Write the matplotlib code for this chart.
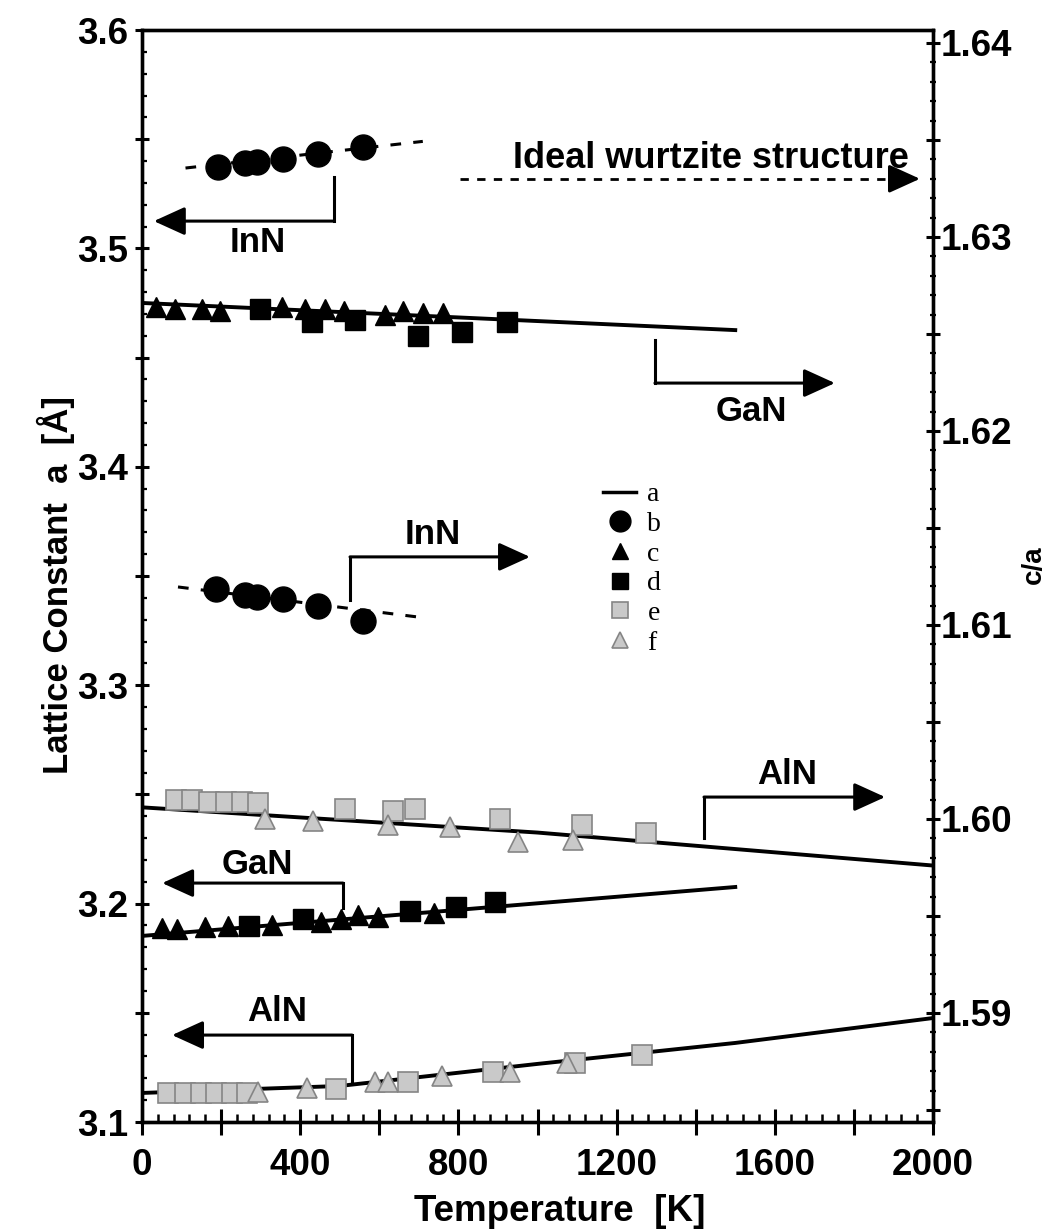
import numpy as np
import matplotlib
matplotlib.use('Agg')
from matplotlib import pyplot as plt
from matplotlib.lines import Line2D

# ---- data (T in K) ----
# lattice constant a (left axis)
inn_a_T = [192, 260, 291, 357, 445, 559]
inn_a = [3.5373, 3.5390, 3.5396, 3.5409, 3.5432, 3.5464]
inn_a_fit_T = [110, 710]
inn_a_fit = [3.5368, 3.5490]

gan_a_tri_T = [51, 89, 159, 217, 329, 453, 503, 546, 597, 738]
gan_a_tri = [3.1888, 3.1884, 3.1893, 3.1897, 3.1902, 3.1916, 3.1930, 3.1948, 3.1939, 3.1957]
gan_a_sq_T = [271, 407, 678, 794, 893]
gan_a_sq = [3.1897, 3.1930, 3.1966, 3.1984, 3.2007]
gan_a_fit_T = [0, 1500]
gan_a_fit = [3.1852, 3.2076]

aln_a_sq_T = [66, 109, 149, 187, 228, 265, 491, 673, 887, 1095, 1264]
aln_a_sq = [3.1133, 3.1133, 3.1133, 3.1133, 3.1133, 3.1133, 3.1151, 3.1183, 3.1229, 3.1270, 3.1307]
aln_a_tri_T = [293, 417, 589, 622, 759, 931, 1075]
aln_a_tri = [3.1137, 3.1156, 3.1183, 3.1183, 3.1211, 3.1229, 3.1270]
aln_a_fit_T = [0, 500, 1000, 1500, 2000]
aln_a_fit = [3.1133, 3.1165, 3.1266, 3.1362, 3.1476]

# c/a ratio (right axis)
inn_ca_T = [187, 260, 291, 357, 445, 559]
inn_ca = [1.61186, 1.61155, 1.61144, 1.61134, 1.61098, 1.61021]
inn_ca_fit_T = [91, 698]
inn_ca_fit = [1.61196, 1.61041]

gan_ca_tri_T = [35, 83, 152, 197, 354, 412, 463, 511, 614, 660, 711, 761]
gan_ca_tri = [1.6264, 1.6263, 1.6263, 1.6262, 1.6264, 1.6263, 1.6263, 1.6262, 1.6260, 1.6262, 1.6261, 1.6261]
gan_ca_sq_T = [298, 430, 539, 698, 809, 923]
gan_ca_sq = [1.6263, 1.6256, 1.6257, 1.6249, 1.6251, 1.6256]
gan_ca_fit_T = [0, 1500]
gan_ca_fit = [1.6266, 1.6252]

aln_ca_sq_T = [86, 126, 169, 212, 253, 293, 513, 635, 690, 905, 1113, 1274]
aln_ca_sq = [1.6010, 1.6010, 1.6009, 1.6009, 1.6009, 1.6008, 1.6005, 1.6004, 1.6005, 1.6000, 1.5997, 1.5993]
aln_ca_tri_T = [311, 432, 622, 779, 951, 1090]
aln_ca_tri = [1.6000, 1.5999, 1.5997, 1.5996, 1.5988, 1.5989]
aln_ca_fit_T = [0, 1000, 2000]
aln_ca_fit = [1.6006, 1.5993, 1.5976]

ideal_ca = 1.633

x_tick_labels = ['0', '400', '800', '1200', '1600', '2000']
left_tick_labels = ['3.1', '3.2', '3.3', '3.4', '3.5', '3.6']
right_tick_labels = ['1.59', '1.60', '1.61', '1.62', '1.63', '1.64']
legend_labels = ['a', 'b', 'c', 'd', 'e', 'f']

plt.rcParams['font.family'] = ['Liberation Sans', 'DejaVu Sans']
plt.rcParams['font.weight'] = 'bold'

fig = plt.figure(figsize=(10.52, 12.30), dpi=100)
ax = fig.add_axes([142/1052, 108/1230, 791/1052, 1092/1230])
ax2 = ax.twinx()

ax.set_xlim(0, 2000)
ax.set_ylim(3.1, 3.6)
ax2.set_ylim(1.58438, 1.64067)

for sp in ax.spines.values():
    sp.set_linewidth(2.4)
for sp in ax2.spines.values():
    sp.set_linewidth(2.4)

gray_face = '#c9c9c9'
gray_edge = '#858585'

# fit lines
ax.plot(inn_a_fit_T, inn_a_fit, color='k', lw=2.2, dashes=(3.5, 4))
ax.plot(gan_a_fit_T, gan_a_fit, color='k', lw=2.8)
ax.plot(aln_a_fit_T, aln_a_fit, color='k', lw=2.8)
ax2.plot(inn_ca_fit_T, inn_ca_fit, color='k', lw=2.2, dashes=(3.5, 4))
ax2.plot(gan_ca_fit_T, gan_ca_fit, color='k', lw=2.8)
ax2.plot(aln_ca_fit_T, aln_ca_fit, color='k', lw=2.8)

# points, lattice constant
ax.plot(inn_a_T, inn_a, 'o', color='k', ms=18)
ax.plot(gan_a_tri_T, gan_a_tri, '^', color='k', ms=15)
ax.plot(gan_a_sq_T, gan_a_sq, 's', color='k', ms=15)
ax.plot(aln_a_sq_T, aln_a_sq, 's', mfc=gray_face, mec=gray_edge, mew=1.2, ms=14.5)
ax.plot(aln_a_tri_T, aln_a_tri, '^', mfc=gray_face, mec=gray_edge, mew=1.2, ms=14.5)

# points, c/a
ax2.plot(inn_ca_T, inn_ca, 'o', color='k', ms=18)
ax2.plot(gan_ca_tri_T, gan_ca_tri, '^', color='k', ms=15)
ax2.plot(gan_ca_sq_T, gan_ca_sq, 's', color='k', ms=15)
ax2.plot(aln_ca_sq_T, aln_ca_sq, 's', mfc=gray_face, mec=gray_edge, mew=1.2, ms=14.5)
ax2.plot(aln_ca_tri_T, aln_ca_tri, '^', mfc=gray_face, mec=gray_edge, mew=1.2, ms=14.5)

# bent arrows pointing to the axis each set belongs to
arrow_kw = dict(arrowstyle='-|>,head_length=0.55,head_width=0.25', color='k',
                lw=2.2, shrinkA=0, shrinkB=0, mutation_scale=35)


def bent_arrow(axis, start, corner, tip, text, text_xy):
    axis.plot([start[0], corner[0]], [start[1], corner[1]], color='k', lw=2.2)
    axis.annotate('', xy=tip, xytext=corner, arrowprops=arrow_kw)
    axis.text(text_xy[0], text_xy[1], text, ha='center', va='center', fontsize=25, fontweight='bold')


bent_arrow(ax, (485, 3.5327), (485, 3.5125), (30, 3.5125), 'InN', (293, 3.5029))
bent_arrow(ax, (508, 3.1980), (508, 3.2094), (51, 3.2094), 'GaN', (291, 3.2177))
bent_arrow(ax, (531, 3.1183), (531, 3.1398), (76, 3.1398), 'AlN', (341, 3.1504))
bent_arrow(ax2, (1297, 1.62469), (1297, 1.62247), (1752, 1.62247), 'GaN', (1542, 1.62098))
bent_arrow(ax2, (526, 1.61129), (526, 1.61351), (981, 1.61351), 'InN', (736, 1.61464))
bent_arrow(ax2, (1421, 1.59902), (1421, 1.60113), (1879, 1.60113), 'AlN', (1631, 1.60227))

# ideal wurtzite
ax2.plot([804, 1900], [ideal_ca, ideal_ca], color='k', lw=2.0, dashes=(3, 3))
ax2.annotate('', xy=(1967, ideal_ca), xytext=(1890, ideal_ca), arrowprops=arrow_kw)
ax2.text(1439, 1.63405, 'Ideal wurtzite structure', ha='center', va='center',
         fontsize=26, fontweight='bold')

# ticks
x_major = np.arange(0, 2001, 200)
ax.set_xticks(x_major)
ax.set_xticklabels([x_tick_labels[i // 2] if i % 2 == 0 else '' for i in range(len(x_major))])
ax.set_xticks(np.arange(0, 2001, 40), minor=True)

y_major = np.arange(3.1, 3.6001, 0.05)
ax.set_yticks(y_major)
ax.set_yticklabels([left_tick_labels[i // 2] if i % 2 == 0 else '' for i in range(len(y_major))])
ax.set_yticks(np.arange(3.1, 3.6001, 0.01), minor=True)

r_major = np.arange(1.585, 1.6401, 0.005)
ax2.set_yticks(r_major)
ax2.set_yticklabels([right_tick_labels[(i - 1) // 2] if i % 2 == 1 else '' for i in range(len(r_major))])
ax2.set_yticks(np.arange(1.585, 1.6405, 0.001), minor=True)
ax2.set_ylim(1.58438, 1.64067)

ax.tick_params(axis='x', which='major', direction='inout', length=19, width=2.2, pad=9, labelsize=26.5)
ax.tick_params(axis='x', which='minor', direction='in', length=6, width=1.8)
ax.tick_params(axis='y', which='major', direction='inout', length=9.5, width=2.2, pad=5, labelsize=26.5)
ax.tick_params(axis='y', which='minor', direction='in', length=3.6, width=1.6)
ax.tick_params(which='both', top=False, right=False)
ax2.tick_params(axis='y', which='major', direction='inout', length=9.5, width=2.2, pad=1, labelsize=26.5)
ax2.tick_params(axis='y', which='minor', direction='inout', length=5, width=1.6)

ax.set_xlabel('Temperature  [K]', fontsize=26.5, fontweight='bold')
ax.xaxis.set_label_coords(0.528, -0.066)
ax.set_ylabel('Lattice Constant  a  [Å]', fontsize=25, fontweight='bold')
ax.yaxis.set_label_coords(-0.085, 0.492)
ax2.set_ylabel('c/a', fontsize=20, fontweight='bold')
ax2.yaxis.set_label_coords(1.111, 0.51)

# legend
handles = [
    Line2D([], [], color='k', lw=2.5),
    Line2D([], [], marker='o', ls='none', color='k', ms=15),
    Line2D([], [], marker='^', ls='none', color='k', ms=11),
    Line2D([], [], marker='s', ls='none', color='k', ms=11),
    Line2D([], [], marker='s', ls='none', mfc=gray_face, mec=gray_edge, mew=1.2, ms=11),
    Line2D([], [], marker='^', ls='none', mfc=gray_face, mec=gray_edge, mew=1.2, ms=11),
]
ax2.legend(handles, legend_labels, loc='upper left', bbox_to_anchor=(603/1052, 1 - 482/1230),
           bbox_transform=fig.transFigure, frameon=False,
           prop={'family': 'Liberation Serif', 'size': 20, 'weight': 'normal'},
           handlelength=1.2, handletextpad=0.4, labelspacing=0.15, borderpad=0, borderaxespad=0)

plt.savefig('out.png', dpi=100)
